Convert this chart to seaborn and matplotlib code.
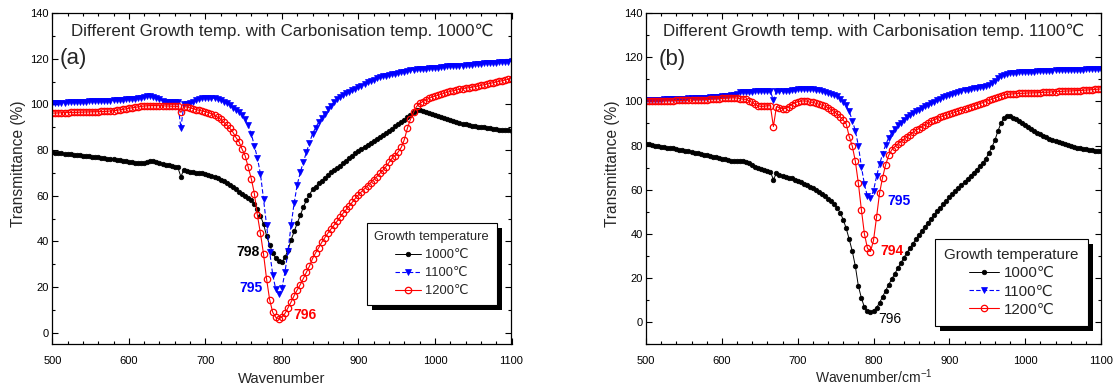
import numpy as np
import matplotlib
matplotlib.use("Agg")
import matplotlib.pyplot as plt
import matplotlib.patheffects as pe
from matplotlib.ticker import MultipleLocator
import seaborn as sns

# ---------------------------------------------------------------- data
wavenumber = list(range(500, 1101, 4))

legend_labels = ["1000℃", "1100℃", "1200℃"]

# (a) carbonisation at 1000 C
a_1000 = [
    79.0, 78.9, 78.8, 78.6, 78.5, 78.3, 78.2, 78.0, 77.9, 77.7,
    77.6, 77.4, 77.3, 77.1, 77.0, 76.8, 76.6, 76.5, 76.3, 76.1,
    75.9, 75.7, 75.5, 75.3, 75.1, 74.9, 74.7, 74.5, 74.3, 74.2,
    74.3, 74.8, 75.3, 75.4, 74.8, 74.2, 73.8, 73.5, 73.3, 73.0,
    72.7, 72.4, 68.4, 71.4, 71.0, 70.6, 70.3, 70.1, 70.0, 69.9,
    69.7, 69.3, 68.8, 68.2, 67.6, 67.0, 66.3, 65.5, 64.7, 63.8,
    62.8, 61.8, 60.9, 60.0, 59.0, 58.0, 56.5, 54.2, 51.3, 47.6,
    42.5, 38.3, 35.1, 32.6, 31.3, 31.0, 33.0, 36.3, 40.7, 44.4,
    48.0, 51.4, 55.0, 58.0, 60.4, 62.8, 64.0, 65.4, 66.6, 67.8,
    68.9, 70.3, 71.2, 72.1, 73.2, 74.3, 75.4, 76.6, 77.6, 78.6,
    79.6, 80.6, 81.5, 82.4, 83.3, 84.1, 85.0, 85.9, 86.7, 87.6,
    88.5, 89.4, 90.4, 91.4, 92.4, 93.3, 94.3, 95.5, 96.5, 97.5,
    97.4, 96.9, 96.5, 96.1, 95.7, 95.3, 94.8, 94.4, 94.0, 93.6,
    93.2, 92.8, 92.4, 92.0, 91.6, 91.2, 90.9, 90.7, 90.5, 90.3,
    90.2, 90.0, 89.8, 89.6, 89.4, 89.2, 89.0, 88.8, 88.7, 88.6,
    88.5,
]
a_1100 = [
    100.6, 100.6, 100.7, 100.8, 100.8, 100.9, 100.9, 101.0, 101.1, 101.1,
    101.2, 101.2, 101.3, 101.3, 101.4, 101.5, 101.5, 101.6, 101.6, 101.7,
    101.8, 101.9, 102.0, 102.1, 102.2, 102.3, 102.4, 102.5, 102.7, 102.9,
    103.2, 103.5, 103.6, 103.4, 102.9, 102.3, 101.6, 101.1, 100.9, 101.0,
    101.1, 101.0, 89.6, 100.2, 100.0, 100.4, 101.2, 102.0, 102.5, 102.7,
    102.8, 102.9, 102.8, 102.7, 102.3, 101.8, 101.2, 100.5, 99.6, 98.6,
    97.6, 96.7, 95.3, 93.5, 90.8, 87.0, 82.0, 76.5, 69.5, 58.5,
    47.0, 35.5, 25.5, 19.0, 16.8, 19.5, 26.5, 36.0, 47.2, 56.8,
    64.8, 70.2, 74.8, 79.0, 83.2, 87.1, 89.8, 92.2, 94.1, 96.0,
    97.8, 99.4, 100.9, 102.2, 103.3, 104.1, 104.9, 105.5, 106.2, 106.8,
    107.5, 108.2, 108.9, 109.6, 110.2, 110.8, 111.4, 111.9, 112.3, 112.6,
    112.9, 113.2, 113.5, 113.8, 114.0, 114.3, 114.6, 114.9, 115.1, 115.3,
    115.5, 115.6, 115.7, 115.8, 115.9, 116.0, 116.1, 116.3, 116.4, 116.6,
    116.7, 116.8, 116.9, 117.0, 117.0, 117.1, 117.2, 117.3, 117.5, 117.6,
    117.8, 117.9, 118.0, 118.1, 118.2, 118.3, 118.4, 118.5, 118.6, 118.7,
    118.8,
]
a_1200 = [
    96.2, 96.2, 96.3, 96.3, 96.4, 96.4, 96.5, 96.5, 96.5, 96.6,
    96.6, 96.7, 96.7, 96.8, 96.8, 96.8, 96.9, 96.9, 97.0, 97.1,
    97.2, 97.4, 97.6, 97.8, 98.0, 98.3, 98.5, 98.7, 98.9, 99.1,
    99.3, 99.4, 99.5, 99.5, 99.5, 99.4, 99.4, 99.3, 99.3, 99.2,
    99.2, 99.1, 96.5, 99.0, 98.8, 98.5, 98.1, 97.7, 97.4, 97.1,
    96.8, 96.4, 95.9, 95.2, 94.4, 93.5, 92.2, 90.9, 89.5, 87.8,
    85.5, 83.6, 80.4, 77.5, 72.5, 67.5, 61.0, 51.5, 43.5, 34.5,
    23.5, 14.5, 9.0, 6.8, 6.1, 7.0, 8.5, 11.0, 13.5, 16.3,
    18.8, 21.1, 23.8, 26.6, 29.2, 32.5, 35.0, 37.2, 39.6, 41.6,
    43.6, 45.4, 47.1, 48.8, 50.6, 52.4, 54.0, 55.6, 57.2, 58.9,
    60.4, 61.8, 63.1, 64.5, 65.8, 67.1, 68.4, 69.8, 71.2, 72.8,
    74.6, 76.5, 77.6, 79.2, 81.2, 84.6, 89.6, 93.5, 96.5, 99.1,
    100.4, 101.2, 101.9, 102.6, 103.2, 103.6, 104.0, 104.4, 104.9, 105.3,
    105.7, 106.0, 106.3, 106.6, 106.9, 107.1, 107.3, 107.5, 107.8, 108.0,
    108.3, 108.6, 108.9, 109.2, 109.5, 109.8, 110.1, 110.4, 110.7, 111.0,
    111.3,
]

# (b) carbonisation at 1100 C
b_1000 = [
    80.6, 80.5, 80.3, 80.0, 79.7, 79.5, 79.3, 79.1, 78.9, 78.7,
    78.4, 78.1, 77.9, 77.6, 77.4, 77.1, 76.8, 76.5, 76.2, 75.9,
    75.6, 75.3, 75.0, 74.7, 74.4, 74.1, 73.8, 73.5, 73.2, 73.0,
    72.9, 72.8, 72.8, 72.5, 72.0, 71.2, 70.5, 69.9, 69.3, 68.9,
    68.5, 68.1, 64.6, 67.4, 66.8, 66.3, 65.9, 65.5, 65.1, 64.6,
    64.1, 63.5, 62.8, 62.1, 61.4, 60.6, 59.8, 58.9, 58.0, 57.0,
    55.9, 54.8, 53.5, 51.8, 49.6, 46.5, 42.5, 37.5, 32.2, 25.5,
    16.5, 11.0, 6.8, 5.0, 4.6, 5.2, 6.6, 8.8, 11.6, 14.3,
    17.0, 19.5, 22.0, 24.4, 26.8, 29.2, 31.4, 33.5, 35.6, 37.6,
    39.6, 41.5, 43.3, 45.1, 46.9, 48.6, 50.3, 51.9, 53.5, 55.0,
    56.5, 58.0, 59.4, 60.8, 62.1, 63.5, 64.9, 66.3, 67.7, 69.1,
    70.6, 72.1, 74.0, 76.5, 79.2, 82.3, 86.5, 90.0, 92.3, 93.3,
    93.2, 92.6, 91.8, 91.0, 90.1, 89.2, 88.3, 87.4, 86.6, 85.8,
    85.0, 84.3, 83.7, 83.1, 82.5, 82.0, 81.5, 81.0, 80.6, 80.2,
    79.8, 79.4, 79.1, 78.8, 78.5, 78.3, 78.1, 77.9, 77.7, 77.6,
    77.5,
]
b_1100 = [
    100.6, 100.6, 100.7, 100.7, 100.8, 100.8, 100.9, 100.9, 101.0, 101.0,
    101.1, 101.1, 101.2, 101.2, 101.3, 101.3, 101.4, 101.5, 101.5, 101.6,
    101.7, 101.8, 101.9, 102.0, 102.1, 102.2, 102.3, 102.5, 102.7, 103.0,
    103.5, 104.1, 104.3, 104.4, 104.4, 104.4, 104.5, 104.5, 104.5, 104.5,
    104.5, 104.5, 100.6, 104.6, 104.6, 104.6, 104.7, 104.9, 105.1, 105.3,
    105.5, 105.6, 105.7, 105.7, 105.6, 105.5, 105.3, 105.1, 104.8, 104.4,
    103.9, 103.4, 102.9, 102.3, 101.2, 99.8, 98.2, 95.5, 91.3, 86.8,
    80.0, 70.5, 62.5, 57.0, 56.3, 59.5, 66.0, 71.5, 76.2, 80.3,
    83.5, 85.6, 87.6, 89.2, 90.4, 91.7, 92.9, 93.8, 94.7, 95.5,
    96.3, 97.0, 97.8, 98.5, 99.2, 99.9, 100.6, 101.2, 101.9, 102.5,
    103.0, 103.5, 103.9, 104.3, 104.7, 105.0, 105.3, 105.6, 105.9, 106.1,
    106.4, 106.7, 107.1, 107.6, 108.3, 109.4, 110.5, 111.4, 112.0, 112.4,
    112.7, 112.9, 113.0, 113.1, 113.2, 113.3, 113.4, 113.5, 113.5, 113.6,
    113.7, 113.7, 113.8, 113.9, 113.9, 114.0, 114.0, 114.1, 114.1, 114.2,
    114.2, 114.3, 114.3, 114.4, 114.4, 114.5, 114.5, 114.5, 114.6, 114.6,
    114.6,
]
b_1200 = [
    100.1, 100.1, 100.1, 100.2, 100.2, 100.2, 100.2, 100.3, 100.3, 100.3,
    100.4, 100.4, 100.4, 100.5, 100.5, 100.6, 100.6, 100.7, 100.7, 100.8,
    100.8, 100.9, 101.0, 101.1, 101.2, 101.3, 101.4, 101.5, 101.6, 101.6,
    101.5, 101.2, 101.0, 100.9, 100.2, 99.5, 98.6, 97.9, 97.7, 97.8,
    98.0, 98.0, 88.6, 97.6, 97.1, 96.7, 96.7, 97.5, 98.5, 99.3,
    99.8, 100.1, 100.2, 100.1, 99.6, 99.6, 99.1, 98.7, 98.3, 97.8,
    97.1, 96.3, 95.4, 94.3, 93.0, 91.5, 89.8, 84.0, 79.8, 73.0,
    63.0, 51.0, 40.0, 33.5, 32.0, 37.0, 47.5, 58.5, 65.5, 71.3,
    75.5, 78.0, 79.5, 80.7, 81.8, 82.8, 83.8, 84.9, 86.0, 86.9,
    87.7, 88.5, 89.3, 90.1, 90.9, 91.6, 92.2, 92.8, 93.3, 93.7,
    94.1, 94.6, 95.1, 95.6, 96.1, 96.6, 97.0, 97.5, 97.9, 98.4,
    98.9, 99.4, 99.9, 100.4, 100.9, 101.4, 101.9, 102.5, 102.9, 103.1,
    103.3, 103.4, 103.5, 103.6, 103.6, 103.7, 103.8, 103.8, 103.9, 103.9,
    104.0, 104.1, 104.1, 104.2, 104.3, 104.4, 104.5, 104.5, 104.6, 104.7,
    104.7, 104.8, 104.9, 104.9, 105.0, 105.1, 105.2, 105.3, 105.4, 105.5,
    105.6,
]

# absorption minima (cm^-1) quoted next to each curve
peaks_a = [798, 795, 796]
peaks_b = [796, 795, 794]

titles = [
    "Different Growth temp. with Carbonisation temp. 1000℃",
    "Different Growth temp. with Carbonisation temp. 1100℃",
]
panel_tags = ["(a)", "(b)"]
x_labels = ["Wavenumber", r"Wavenumber/cm$^{\mathregular{-1}}$"]
y_label = "Transmittance (%)"

# ---------------------------------------------------------------- style
sns.set_theme(style="ticks")
plt.rcParams["font.family"] = ["Liberation Sans", "DejaVu Sans"]
plt.rcParams["mathtext.fontset"] = "custom"
plt.rcParams["mathtext.rm"] = "Liberation Sans"
plt.rcParams["axes.unicode_minus"] = False

series_styles = [
    dict(color="black", marker="o", markersize=3.3, markerfacecolor="black",
         markeredgecolor="black", markeredgewidth=0.5, linestyle="-", linewidth=0.7),
    dict(color="#0000ff", marker="v", markersize=4.6, markerfacecolor="#0000ff",
         markeredgecolor="#0000ff", markeredgewidth=0.5, linestyle=(0, (4, 2)), linewidth=0.8),
    dict(color="#ff0000", marker="o", markersize=4.6, markerfacecolor="none",
         markeredgecolor="#ff0000", markeredgewidth=0.9, linestyle="-", linewidth=0.8),
]
label_colors = ["black", "#0000ff", "#ff0000"]

fig = plt.figure(figsize=(11.15, 3.89), dpi=100)
W, H = 1115.0, 389.0
ax_a = fig.add_axes([52.3 / W, 1 - 344.3 / H, 459.2 / W, 331.3 / H])
ax_b = fig.add_axes([646.0 / W, 1 - 344.3 / H, 455.0 / W, 331.3 / H])

panels = [
    dict(ax=ax_a, series=[a_1000, a_1100, a_1200], peaks=peaks_a, ylim=(-5, 140),
         tag_xy=(0.045, 0.863), ylab_x=-0.058, xlab_fs=10.6,
         peak_text=[(-27, 4.5, "right", True), (-20, 3.0, "right", True), (19, 1.7, "left", True)],
         legend_anchor=(0.968, 0.119), legend_fs=9.3, borderpad=0.6, labelspacing=0.46),
    dict(ax=ax_b, series=[b_1000, b_1100, b_1200], peaks=peaks_b, ylim=(-10, 140),
         tag_xy=(0.058, 0.86), ylab_x=-0.057, xlab_fs=10,
         peak_text=[(10.5, -3.0, "left", False), (23, -1.6, "left", True), (14.5, 0.1, "left", True)],
         legend_anchor=(0.972, 0.055), legend_fs=10.9, borderpad=0.62, labelspacing=0.28),
]

for i, p in enumerate(panels):
    ax = p["ax"]
    handles = []
    for vals, st, lab in zip(p["series"], series_styles, legend_labels):
        sns.lineplot(x=wavenumber, y=vals, ax=ax, estimator=None, sort=False,
                     legend=False, **st)
        handles.append(ax.get_lines()[-1])

    ax.set_xlim(500, 1100)
    ax.set_ylim(*p["ylim"])
    ax.xaxis.set_major_locator(MultipleLocator(100))
    ax.xaxis.set_minor_locator(MultipleLocator(20))
    ax.yaxis.set_major_locator(MultipleLocator(20))
    ax.yaxis.set_minor_locator(MultipleLocator(10))
    ax.tick_params(which="both", direction="in", top=True, right=True,
                   colors="black", width=0.8)
    ax.tick_params(which="major", length=4)
    ax.tick_params(which="minor", length=2)
    ax.tick_params(axis="x", which="major", labelsize=8, pad=8.2)
    ax.tick_params(axis="y", which="major", labelsize=8, pad=2.5)
    for s in ax.spines.values():
        s.set_linewidth(0.9)
        s.set_color("black")
        s.set_visible(True)

    ax.set_xlabel(x_labels[i], fontsize=p["xlab_fs"])
    ax.xaxis.label.set_va("baseline")
    ax.xaxis.set_label_coords(0.5, -0.118)
    ax.set_ylabel(y_label, fontsize=11.2)
    ax.yaxis.set_label_coords(p["ylab_x"], 0.546)

    ax.text(0.5, 0.9457, titles[i], transform=ax.transAxes, ha="center",
            va="center", fontsize=12.2)
    ax.text(p["tag_xy"][0], p["tag_xy"][1], panel_tags[i], transform=ax.transAxes,
            ha="center", va="center", fontsize=16)

    # minimum positions written beside each absorption dip
    for vals, pk, (dx, dy, ha, bold), col in zip(p["series"], p["peaks"],
                                                 p["peak_text"], label_colors):
        ax.text(pk + dx, min(vals) + dy, str(pk), color=col, ha=ha, va="center",
                fontsize=10, fontweight="bold" if bold else "normal")

    leg = ax.legend(handles, legend_labels, title="Growth temperature",
                    loc="lower right", bbox_to_anchor=p["legend_anchor"],
                    fontsize=p["legend_fs"], title_fontsize=p["legend_fs"],
                    frameon=True, fancybox=False, framealpha=1,
                    edgecolor="black", handlelength=2.0,
                    handletextpad=0.3, labelspacing=p["labelspacing"],
                    borderpad=p["borderpad"], borderaxespad=0)
    frame = leg.get_frame()
    frame.set_linewidth(0.8)
    frame.set_path_effects([
        pe.SimplePatchShadow(offset=(3.6, -3.6), shadow_rgbFace="black", alpha=1.0),
        pe.Normal(),
    ])

fig.savefig("out.png", dpi=100)
